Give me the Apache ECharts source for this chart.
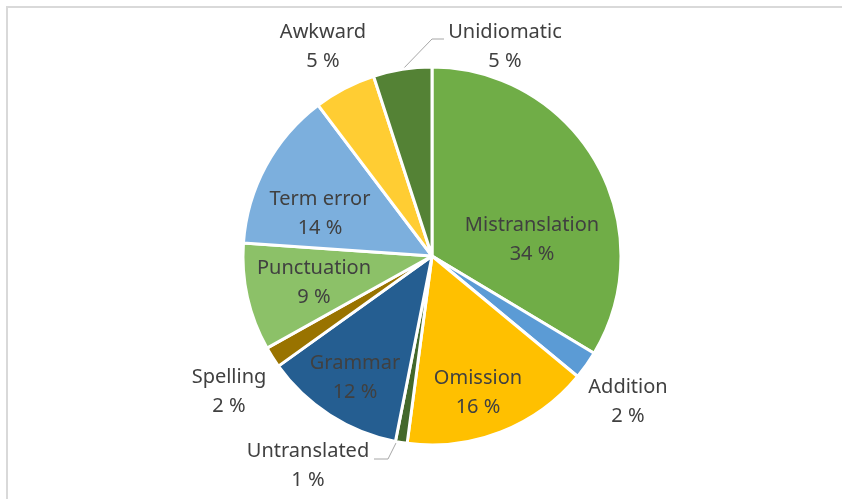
<!DOCTYPE html>
<html>
<head>
<meta charset="utf-8">
<script src="https://cdn.jsdelivr.net/npm/echarts@6/dist/echarts.min.js"></script>
<style>
  html, body { margin: 0; padding: 0; background: #ffffff; }
  #frame { position: absolute; left: 6px; top: 6px; width: 836px; height: 493px;
           border-top: 2px solid #d9d9d9; border-left: 2px solid #d9d9d9; box-sizing: border-box; }
  #chart { position: absolute; left: 0; top: 0; width: 842px; height: 499px; }
</style>
</head>
<body>
<div id="frame"></div>
<div id="chart"></div>
<script>
// Data (percent shares)
const categories = ['Mistranslation', 'Addition', 'Omission', 'Untranslated', 'Grammar',
                    'Spelling', 'Punctuation', 'Term error', 'Awkward', 'Unidiomatic'];
const shares = [33.6, 2.4, 16.1, 1.0, 12.0, 1.8, 9.2, 13.6, 5.3, 5.0];
const colors = ['#70ad47', '#5b9bd5', '#ffc000', '#43682b', '#255e91',
                '#997300', '#8cc168', '#7cafdd', '#ffcd33', '#548235'];

// Label placement (pixel anchors of label centres, plus leader line for two labels)
const labelPlace = {
  'Mistranslation': { x: 532, y: 240 },
  'Addition':       { x: 628, y: 402 },
  'Omission':       { x: 478, y: 393 },
  'Untranslated':   { x: 308, y: 466, line: [[397, 441], [388, 459], [374, 459]] },
  'Grammar':        { x: 355, y: 378 },
  'Spelling':       { x: 229, y: 392 },
  'Punctuation':    { x: 314, y: 283 },
  'Term error':     { x: 320, y: 214 },
  'Awkward':        { x: 323, y: 47 },
  'Unidiomatic':    { x: 505, y: 47, line: [[402, 70], [432, 39], [444, 39]] }
};

const chart = echarts.init(document.getElementById('chart'), null, { renderer: 'canvas' });
const data = categories.map((name, i) => ({
  name: name,
  value: shares[i],
  itemStyle: { color: colors[i] },
  labelLine: { show: !!labelPlace[name].line }
}));

chart.setOption({
  animation: false,
  backgroundColor: 'transparent',
  series: [{
    type: 'pie',
    center: [432, 256],
    radius: 189,
    startAngle: 90,
    clockwise: true,
    data: data,
    itemStyle: { borderColor: '#ffffff', borderWidth: 3 },
    label: {
      show: true,
      position: 'outside',
      formatter: p => p.name + '\n' + Math.round(p.value) + ' %',
      color: '#404040',
      fontFamily: 'Noto Sans',
      fontSize: 20,
      lineHeight: 29,
      align: 'center',
      verticalAlign: 'middle'
    },
    labelLine: { lineStyle: { color: '#a6a6a6', width: 1 }, smooth: false },
    labelLayout: function (params) {
      const name = categories[params.dataIndex];
      const pl = labelPlace[name];
      const res = { x: pl.x, y: pl.y, align: 'center', verticalAlign: 'middle' };
      if (pl.line) res.labelLinePoints = pl.line;
      return res;
    }
  }]
});
</script>
</body>
</html>
